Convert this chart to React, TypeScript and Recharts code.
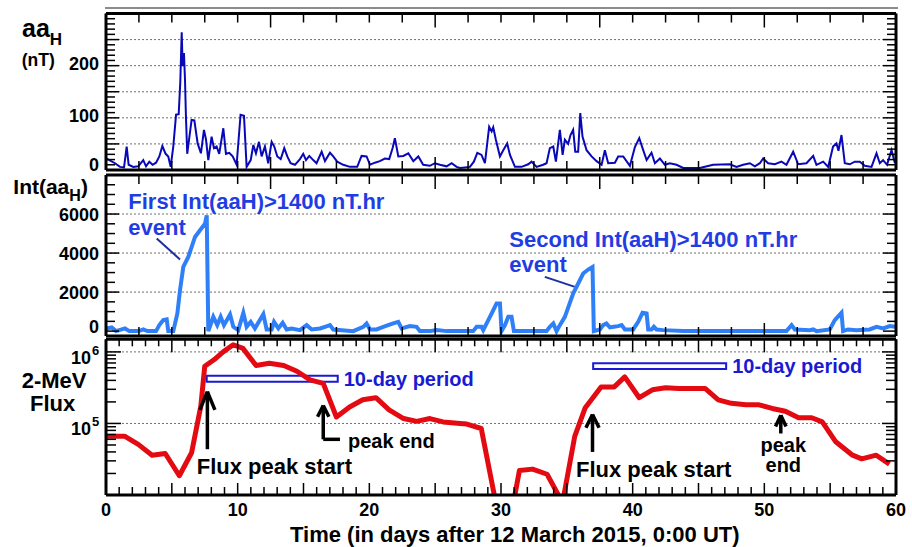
import React from 'react';
import { LineChart, Line, XAxis, YAxis, ReferenceLine, ReferenceArea } from 'recharts';

const FONT = '"Liberation Sans", Arial, Helvetica, sans-serif';
const AA_COLOR = '#0808b8';
const INT_COLOR = '#2f80f8';
const FLUX_COLOR = '#e30a12';
const TXT_BLUE = '#1f3de3';
const BOX_BLUE = '#1a1ad2';

// ---- data ----
// aaH (nT) vs time (days)
const aaPoints: [number, number][] = [
  [0.05, 22], [0.68, 13], [1.06, 6], [1.37, 5], [1.57, 45], [1.72, 10], [2.07, 6], [2.45, 7], [2.83, 19], [3.04, 7],
  [3.29, 16], [3.54, 10], [3.8, 14], [4.05, 26], [4.28, 46], [4.53, 31], [4.73, 26], [4.91, 6], [5.11, 45], [5.32, 106],
  [5.52, 107], [5.64, 167], [5.75, 264], [5.82, 199], [5.92, 224], [6.0, 173], [6.07, 103], [6.17, 31], [6.5, 96], [6.71, 95],
  [6.96, 51], [7.21, 32], [7.44, 77], [7.59, 59], [7.77, 19], [8.02, 64], [8.2, 42], [8.4, 45], [8.6, 31], [8.91, 80],
  [9.11, 31], [9.36, 33], [9.62, 26], [9.92, 10], [10.22, 106], [10.48, 104], [10.68, 6], [10.99, 19], [11.19, 48], [11.39, 32],
  [11.62, 54], [11.82, 26], [12.07, 45], [12.32, 13], [12.58, 54], [12.78, 45], [13.01, 26], [13.27, 21], [13.54, 42], [13.77, 26],
  [14.02, 13], [14.35, 10], [14.73, 21], [14.98, 31], [15.19, 19], [15.44, 27], [15.74, 19], [15.99, 13], [16.38, 35], [16.63, 17],
  [17.01, 33], [17.26, 26], [17.56, 16], [18.02, 10], [18.53, 6], [19.08, 6], [19.41, 27], [19.79, 26], [20.05, 10], [20.42, 14],
  [20.8, 17], [21.18, 22], [21.51, 21], [21.77, 42], [21.94, 61], [22.2, 26], [22.58, 27], [22.96, 32], [23.34, 17], [23.72, 26],
  [24.09, 10], [24.6, 8], [24.98, 13], [25.36, 10], [25.87, 7], [26.25, 13], [26.63, 6], [26.88, 4], [27.64, 6], [27.94, 16],
  [28.2, 33], [28.52, 29], [28.78, 13], [29.1, 83], [29.29, 74], [29.41, 82], [29.61, 58], [29.92, 26], [30.17, 38], [30.47, 51],
  [30.68, 29], [31.06, 6], [31.56, 6], [32.07, 11], [32.32, 16], [32.7, 6], [33.2, 10], [33.46, 13], [33.71, 42], [33.97, 45],
  [34.17, 16], [34.47, 77], [34.68, 29], [34.85, 58], [35.1, 50], [35.28, 67], [35.48, 77], [35.64, 35], [35.86, 35], [36.02, 109],
  [36.19, 64], [36.5, 38], [36.88, 26], [37.26, 17], [37.64, 10], [37.89, 38], [38.14, 13], [38.65, 14], [38.9, 26], [39.28, 26],
  [39.79, 8], [40.17, 44], [40.5, 61], [40.8, 38], [41.06, 19], [41.43, 33], [41.69, 13], [42.07, 22], [42.45, 10], [42.82, 13],
  [43.33, 10], [43.84, 4], [45.1, 4], [46.11, 10], [47.38, 11], [47.89, 6], [48.39, 10], [48.9, 13], [49.28, 7], [49.66, 13],
  [49.91, 22], [50.29, 13], [50.8, 11], [51.3, 16], [51.68, 10], [52.19, 35], [52.57, 11], [53.2, 13], [53.71, 27], [53.96, 10],
  [54.47, 16], [54.85, 6], [55.22, 45], [55.48, 51], [55.63, 37], [55.86, 67], [56.11, 13], [56.49, 11], [56.87, 16], [57.25, 16],
  [57.63, 8], [58.14, 6], [58.52, 32], [58.77, 13], [59.02, 19], [59.32, 10], [59.66, 38], [59.92, 13],
];

// Int(aaH) (nT.hr) vs time (days)
const intPoints: [number, number][] = [
  [0.05, 138], [0.43, 189], [0.76, 0], [1.44, 138], [1.77, 0], [2.5, 0], [2.83, 85], [3.14, 0], [3.8, 0], [4.05, 307],
  [4.35, 563], [4.61, 597], [4.73, 0], [5.11, 0], [5.42, 905], [5.62, 2097], [5.87, 3290], [6.25, 3802], [6.76, 4825], [7.14, 5166],
  [7.52, 5507], [7.65, 5933], [7.77, 0], [8.15, 733], [8.45, 307], [8.71, 733], [8.96, 307], [9.42, 852], [9.67, 222], [10.05, 51],
  [10.43, 938], [10.68, 222], [10.99, 477], [11.31, 138], [11.95, 870], [12.2, 85], [12.58, 85], [12.76, 477], [13.09, 138], [13.42, 426],
  [13.72, 85], [14.1, 138], [14.73, 51], [15.24, 307], [15.62, 85], [16.25, 138], [16.63, 222], [17.01, 307], [17.26, 85], [18.78, 0],
  [19.54, 222], [19.79, 392], [20.05, 85], [20.55, 85], [21.06, 222], [21.81, 392], [22.2, 477], [22.45, 138], [23.08, 256], [23.59, 222],
  [23.84, 0], [24.6, 0], [25.11, 51], [25.87, 0], [27.89, 0], [28.15, 222], [28.52, 222], [28.65, 51], [29.16, 733], [29.66, 1415],
  [29.92, 1415], [30.04, 0], [30.3, 307], [30.55, 733], [30.8, 733], [30.98, 0], [33.46, 0], [33.71, 222], [33.97, 392], [34.22, 0],
  [34.47, 307], [34.85, 733], [35.48, 1927], [36.24, 2950], [36.62, 3155], [36.95, 3290], [37.05, 0], [37.51, 85], [37.76, 307], [38.01, 392],
  [38.27, 188], [38.57, 222], [38.9, 256], [39.16, 307], [39.41, 85], [40.04, 85], [40.42, 477], [40.75, 938], [41.06, 904], [41.18, 85],
  [41.43, 85], [41.61, 222], [41.81, 85], [42.32, 51], [43.84, 0], [51.68, 0], [52.07, 307], [52.32, 85], [53.45, 51], [53.71, 85],
  [53.96, 0], [54.97, 85], [55.35, 563], [55.86, 938], [55.98, 0], [56.36, 85], [56.99, 51], [58.0, 85], [58.52, 222], [59.02, 138],
  [59.53, 256], [59.92, 222],
];

// 2-MeV electron flux vs time (days)
const fluxPoints: [number, number][] = [
  [0, 66000], [1.44, 66000], [2.45, 51000], [3.5, 36000], [4.5, 38000], [5.57, 18600], [6.5, 39000], [7.2, 174000], [7.5, 630000], [8.2, 776000],
  [8.9, 1000000], [9.66, 1260000], [10.4, 1120000], [11.4, 646000], [12.4, 692000], [13.5, 646000], [14.5, 537000], [15.5, 407000], [16.5, 363000], [17.5, 123000],
  [18.5, 170000], [19.5, 214000], [20.5, 229000], [21.5, 155000], [22.6, 117000], [23.6, 107000], [24.6, 117000], [25.6, 105000], [26.9, 100000], [27.4, 98000],
  [28.5, 85000], [29.6, 7900], [30.95, 7900], [31.4, 22000], [32.4, 23000], [33.5, 19500], [34.45, 9300], [34.75, 9300], [35.6, 66000], [36.4, 166000],
  [37.6, 324000], [38.6, 324000], [39.4, 447000], [40.5, 229000], [41.5, 295000], [42.5, 316000], [43.5, 309000], [44.5, 309000], [45.5, 309000], [46.5, 214000],
  [47.5, 191000], [48.6, 182000], [49.6, 182000], [50.6, 162000], [51.6, 148000], [52.6, 120000], [53.6, 120000], [54.4, 105000], [55.4, 56000], [56.7, 36000],
  [57.4, 32000], [58.5, 36000], [59.5, 27000],
];

// tick labels / gridlines
const xTickLabels = [0, 10, 20, 30, 40, 50, 60];
const aaTickLabels = [0, 100, 200];
const intTickLabels = [0, 2000, 4000, 6000];
const fluxTickLabels = [100000, 1000000];
const aaGrid = [50, 100, 150, 200, 250];
const intGrid = [2000, 4000, 6000];
const fluxGrid = [100000, 1000000];
const fluxTicks = [
  10000, 20000, 30000, 40000, 50000, 60000, 70000, 80000, 90000,
  100000, 200000, 300000, 400000, 500000, 600000, 700000, 800000, 900000, 1000000,
];

const range = (a: number, b: number, s: number) => {
  const r: number[] = [];
  for (let v = a; v <= b + 1e-9; v += s) r.push(Math.round(v * 1000) / 1000);
  return r;
};
const xTicks25 = range(0, 60, 2.5);
const xTicks1 = range(0, 60, 1);
const aaTicks = range(0, 300, 10);
const intTicks = range(0, 8000, 500);

const aaData = aaPoints.map(([d, v]) => ({ d, v }));
const intData = intPoints.map(([d, v]) => ({ d, v }));
const fluxData = fluxPoints.map(([d, v]) => ({ d, v }));

// ---- ticks ----
const TL = { stroke: '#000', strokeWidth: 1.5 };
const lblStyle = { fontFamily: FONT, fontWeight: 'bold' as const, fill: '#000' };

const topTick = (maj: (v: number) => boolean, ml: number, nl: number) => (p: any) => {
  const v = p.payload.value;
  const len = maj(v) ? ml : nl;
  return <line x1={p.x} x2={p.x} y1={p.y} y2={p.y + len} {...TL} />;
};
const bottomTick = (maj: (v: number) => boolean, ml: number, nl: number, labels?: number[]) => (p: any) => {
  const v = p.payload.value;
  const len = maj(v) ? ml : nl;
  return (
    <g>
      <line x1={p.x} x2={p.x} y1={p.y} y2={p.y - len} {...TL} />
      {labels && labels.includes(v) && (
        <text x={p.x} y={p.y + 21} textAnchor="middle" fontSize={18} {...lblStyle}>{v}</text>
      )}
    </g>
  );
};
const rightTick = (maj: (v: number) => boolean, ml: number, nl: number) => (p: any) => {
  const v = p.payload.value;
  const len = maj(v) ? ml : nl;
  return <line x1={p.x} x2={p.x - len} y1={p.y} y2={p.y} {...TL} />;
};
const leftTick = (
  maj: (v: number) => boolean, ml: number, nl: number, labels: number[], dy: (v: number) => number,
) => (p: any) => {
  const v = p.payload.value;
  const len = maj(v) ? ml : nl;
  return (
    <g>
      <line x1={p.x} x2={p.x + len} y1={p.y} y2={p.y} {...TL} />
      {labels.includes(v) && (
        <text x={p.x - 7} y={p.y + dy(v)} textAnchor="end" fontSize={18} {...lblStyle}>{v}</text>
      )}
    </g>
  );
};
const logLeftTick = (p: any) => {
  const v = p.payload.value;
  const maj = fluxTickLabels.includes(v);
  const len = maj ? 15 : 10;
  const exp = Math.round(Math.log10(v));
  return (
    <g>
      <line x1={p.x} x2={p.x + len} y1={p.y} y2={p.y} {...TL} />
      {maj && (
        <>
          <text x={p.x - 15} y={p.y + 12} textAnchor="end" fontSize={18} {...lblStyle}>10</text>
          <text x={p.x - 14} y={p.y + 3} textAnchor="start" fontSize={13} {...lblStyle}>{exp}</text>
        </>
      )}
    </g>
  );
};

const AXLINE = { stroke: '#000', strokeWidth: 3 };
const common = {
  type: 'number' as const,
  allowDataOverflow: true,
  tickSize: 0,
  tickMargin: 0,
  tickLine: false,
  axisLine: AXLINE,
  interval: 0 as const,
};
const GRID = { stroke: '#707070', strokeDasharray: '2 2', strokeWidth: 1 };
const ARROW = { stroke: '#000', strokeWidth: 3.5 };

const is125 = (v: number) => Math.abs(v / 12.5 - Math.round(v / 12.5)) < 1e-6;
const is5 = (v: number) => v % 5 === 0;

// axis thickness = 1px (axes with zero size are not drawn), margins compensate
export default function App() {
  return (
    <div style={{ position: 'absolute', left: 0, top: 0, width: 912, height: 547, background: '#fff', overflow: 'hidden' }}>
      {/* Panel 1: aaH */}
      <div style={{ position: 'absolute', left: 0, top: 0 }}>
        <LineChart width={912} height={547} margin={{ top: 12.5, right: 15, bottom: 376, left: 105 }}>
          <XAxis xAxisId="b" dataKey="d" domain={[0, 60]} ticks={xTicks25} height={1} {...common} tick={bottomTick(is125, 13, 9)} />
          <XAxis xAxisId="t" orientation="top" dataKey="d" domain={[0, 60]} ticks={xTicks25} height={1} {...common} tick={topTick(is125, 14, 9)} />
          <YAxis yAxisId="l" domain={[0, 300]} ticks={aaTicks} width={1} {...common} tick={leftTick((v) => v % 50 === 0, 13, 9, aaTickLabels, (v) => (v === 0 ? 1 : 4))} />
          <YAxis yAxisId="r" orientation="right" domain={[0, 300]} ticks={aaTicks} width={1} {...common} tick={rightTick((v) => v % 50 === 0, 13, 9)} />
          {aaGrid.map((g) => (
            <ReferenceLine key={g} xAxisId="b" yAxisId="l" y={g} {...GRID} />
          ))}
          <Line xAxisId="b" yAxisId="l" data={aaData} dataKey="v" type="linear" stroke={AA_COLOR} strokeWidth={2} dot={false} isAnimationActive={false} />
        </LineChart>
      </div>

      {/* Panel 2: Int(aaH) */}
      <div style={{ position: 'absolute', left: 0, top: 0 }}>
        <LineChart width={912} height={547} margin={{ top: 174, right: 15, bottom: 210, left: 105 }}>
          <XAxis xAxisId="b" dataKey="d" domain={[0, 60]} ticks={xTicks25} height={1} {...common} tick={bottomTick(is125, 13, 9)} />
          <XAxis xAxisId="t" orientation="top" dataKey="d" domain={[0, 60]} ticks={xTicks25} height={1} {...common} tick={topTick(is125, 14, 9)} />
          <YAxis yAxisId="l" domain={[-250, 8000]} ticks={intTicks} width={1} {...common} tick={leftTick((v) => v % 2000 === 0, 13, 9, intTickLabels, (v) => (v === 0 ? 2 : 7))} />
          <YAxis yAxisId="r" orientation="right" domain={[-250, 8000]} ticks={intTicks} width={1} {...common} tick={rightTick((v) => v % 2000 === 0, 13, 9)} />
          {intGrid.map((g) => (
            <ReferenceLine key={g} xAxisId="b" yAxisId="l" y={g} {...GRID} />
          ))}
          <ReferenceLine xAxisId="b" yAxisId="l" segment={[{ x: 3.85, y: 4749 }, { x: 5.62, y: 3673 }]} stroke="#1b2f9e" strokeWidth={2} />
          <ReferenceLine xAxisId="b" yAxisId="l" segment={[{ x: 33.33, y: 2782 }, { x: 35.61, y: 2269 }]} stroke="#1b2f9e" strokeWidth={2} />
          <Line xAxisId="b" yAxisId="l" data={intData} dataKey="v" type="linear" stroke={INT_COLOR} strokeWidth={4} dot={false} isAnimationActive={false} />
        </LineChart>
      </div>

      {/* Panel 3: 2-MeV flux */}
      <div style={{ position: 'absolute', left: 0, top: 0 }}>
        <LineChart width={912} height={547} margin={{ top: 338.3, right: 15, bottom: 51, left: 105 }}>
          <XAxis xAxisId="b" dataKey="d" domain={[0, 60]} ticks={xTicks1} height={1} {...common} tick={bottomTick(is5, 12, 8, xTickLabels)} />
          <XAxis xAxisId="t" orientation="top" dataKey="d" domain={[0, 60]} ticks={xTicks1} height={1} {...common} tick={topTick(is5, 13, 7)} />
          <YAxis yAxisId="l" scale="log" domain={[10000, 1500000]} ticks={fluxTicks} width={1} {...common} tick={logLeftTick} />
          <YAxis yAxisId="r" orientation="right" scale="log" domain={[10000, 1500000]} ticks={fluxTicks} width={1} {...common} tick={rightTick((v) => fluxTickLabels.includes(v), 14, 10)} />
          {fluxGrid.map((g) => (
            <ReferenceLine key={g} xAxisId="b" yAxisId="l" y={g} {...GRID} />
          ))}
          <ReferenceArea
            xAxisId="b" yAxisId="l" x1={7.65} x2={17.6} y1={383000} y2={464000}
            fill="#fff" fillOpacity={1} stroke={BOX_BLUE} strokeWidth={2}
            label={{ value: '10-day period', position: 'right', offset: 6, fill: BOX_BLUE, fontSize: 20, fontWeight: 'bold', fontFamily: FONT }}
          />
          <ReferenceArea
            xAxisId="b" yAxisId="l" x1={37.0} x2={47.1} y1={575000} y2={696000}
            fill="#fff" fillOpacity={1} stroke={BOX_BLUE} strokeWidth={2}
            label={{ value: '10-day period', position: 'right', offset: 6, fill: BOX_BLUE, fontSize: 20, fontWeight: 'bold', fontFamily: FONT }}
          />
          <Line xAxisId="b" yAxisId="l" data={fluxData} dataKey="v" type="linear" stroke={FLUX_COLOR} strokeWidth={5} strokeLinejoin="round" dot={false} isAnimationActive={false} />
          {/* Flux peak start (1) */}
          <ReferenceLine xAxisId="b" yAxisId="l" segment={[{ x: 7.7, y: 43650 }, { x: 7.7, y: 278000 }]} {...ARROW} />
          <ReferenceLine xAxisId="b" yAxisId="l" segment={[{ x: 7.13, y: 155000 }, { x: 7.7, y: 278000 }]} {...ARROW} />
          <ReferenceLine xAxisId="b" yAxisId="l" segment={[{ x: 8.27, y: 155000 }, { x: 7.7, y: 278000 }]} {...ARROW} />
          {/* peak end (1) */}
          <ReferenceLine xAxisId="b" yAxisId="l" segment={[{ x: 16.5, y: 60000 }, { x: 16.5, y: 177800 }]} {...ARROW} />
          <ReferenceLine xAxisId="b" yAxisId="l" segment={[{ x: 16.5, y: 60000 }, { x: 17.77, y: 60000 }]} {...ARROW} />
          <ReferenceLine xAxisId="b" yAxisId="l" segment={[{ x: 16.07, y: 124000 }, { x: 16.5, y: 177800 }]} {...ARROW} />
          <ReferenceLine xAxisId="b" yAxisId="l" segment={[{ x: 16.93, y: 124000 }, { x: 16.5, y: 177800 }]} {...ARROW} />
          {/* Flux peak start (2) */}
          <ReferenceLine xAxisId="b" yAxisId="l" segment={[{ x: 36.95, y: 40000 }, { x: 36.95, y: 133400 }]} {...ARROW} />
          <ReferenceLine xAxisId="b" yAxisId="l" segment={[{ x: 36.45, y: 87000 }, { x: 36.95, y: 133400 }]} {...ARROW} />
          <ReferenceLine xAxisId="b" yAxisId="l" segment={[{ x: 37.45, y: 87000 }, { x: 36.95, y: 133400 }]} {...ARROW} />
          {/* peak end (2) */}
          <ReferenceLine xAxisId="b" yAxisId="l" segment={[{ x: 51.25, y: 72400 }, { x: 51.25, y: 130300 }]} {...ARROW} />
          <ReferenceLine xAxisId="b" yAxisId="l" segment={[{ x: 50.85, y: 91000 }, { x: 51.25, y: 130300 }]} {...ARROW} />
          <ReferenceLine xAxisId="b" yAxisId="l" segment={[{ x: 51.65, y: 91000 }, { x: 51.25, y: 130300 }]} {...ARROW} />
        </LineChart>
      </div>

      {/* text overlay */}
      <svg width={912} height={547} style={{ position: 'absolute', left: 0, top: 0, pointerEvents: 'none' }} fontFamily={FONT} fontWeight="bold">
        <line x1={105} x2={898} y1={8} y2={8} stroke="#666" strokeWidth={1.5} />
        <text x={22} y={36.7} fontSize={25} fill="#000">aa<tspan fontSize={17} dy={8}>H</tspan></text>
        <text x={21.7} y={66} fontSize={17.5} fill="#000">(nT)</text>
        <text x={13.3} y={194} fontSize={21} fill="#000">Int(aa<tspan fontSize={16} dy={7}>H</tspan><tspan dy={-7}>)</tspan></text>
        <text x={21.7} y={388.3} fontSize={22} fill="#000">2-MeV</text>
        <text x={30} y={411} fontSize={22} fill="#000">Flux</text>
        <text x={290} y={541.5} fontSize={22} fill="#000">Time (in days after 12 March 2015, 0:00 UT)</text>

        <text x={128.3} y={208.5} fontSize={22} fill={TXT_BLUE}>First Int(aaH)&gt;1400 nT.hr</text>
        <text x={128.3} y={235} fontSize={22} fill={TXT_BLUE}>event</text>
        <text x={509.3} y={246.7} fontSize={22} fill={TXT_BLUE}>Second Int(aaH)&gt;1400 nT.hr</text>
        <text x={509.3} y={272} fontSize={22} fill={TXT_BLUE}>event</text>

        <text x={196.7} y={474} fontSize={22} fill="#000">Flux peak start</text>
        <text x={576} y={476.7} fontSize={22} fill="#000">Flux peak start</text>
        <text x={348} y={448.3} fontSize={20} fill="#000">peak end</text>
        <text x={783.3} y={451.7} fontSize={20} fill="#000" textAnchor="middle">peak</text>
        <text x={783.3} y={471.7} fontSize={20} fill="#000" textAnchor="middle">end</text>
      </svg>
    </div>
  );
}
